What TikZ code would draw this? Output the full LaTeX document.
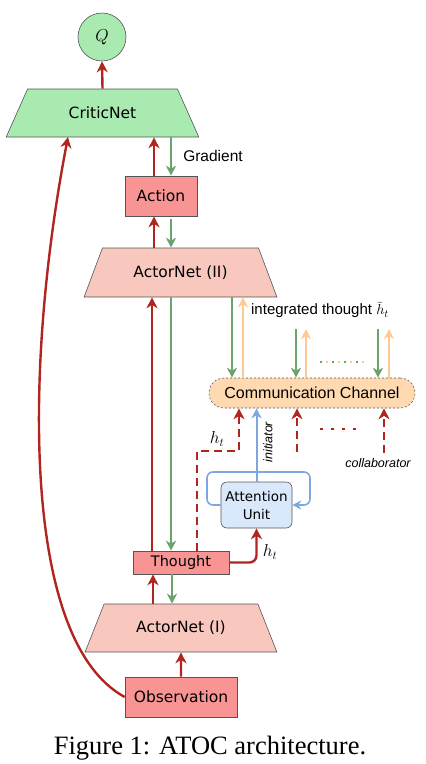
\documentclass[tikz,border=0pt]{standalone}
\usepackage{fontspec}
\setmainfont{Liberation Sans}
\newfontfamily\boxfont{DejaVu Sans}
\newfontfamily\capfont{Liberation Serif}
\usetikzlibrary{shapes.geometric,arrows.meta,calc}
\definecolor{critgreen}{HTML}{A9EAB1}
\definecolor{actpink}{HTML}{F8C8BE}
\definecolor{boxred}{HTML}{F89594}
\definecolor{commfill}{HTML}{FFDAB0}
\definecolor{attfill}{HTML}{DAE8FC}
\definecolor{bordgray}{HTML}{555555}
\definecolor{arrred}{HTML}{B0261E}
\definecolor{arrgreen}{HTML}{6BA46B}
\definecolor{arrorange}{HTML}{FFC994}
\definecolor{arrblue}{HTML}{7EA6E0}
\begin{document}
\begin{tikzpicture}[x=1pt,y=-1pt,
  trap/.style={trapezium, trapezium stretches=true, trapezium left angle=51.3, trapezium right angle=51.3,
    minimum width=193pt, minimum height=48pt, inner sep=0pt, draw=bordgray, line width=0.6pt,
    font=\boxfont\fontsize{15.5}{18}\selectfont},
  redbox/.style={rectangle, draw=bordgray, line width=0.6pt, fill=boxred, inner sep=0pt,
    font=\boxfont\fontsize{15.5}{18}\selectfont},
  redarr/.style={draw=arrred, line width=2.4pt, -{Stealth[length=11pt,width=11pt,inset=3.5pt]}},
  grnarr/.style={draw=arrgreen, line width=2pt, -{Stealth[length=10pt,width=10pt,inset=3pt]}},
  orgarr/.style={draw=arrorange, line width=2pt, -{Stealth[length=10pt,width=10pt,inset=3pt]}},
  bluarr/.style={draw=arrblue, line width=2pt, -{Stealth[length=10pt,width=10pt,inset=3pt]}},
  reddash/.style={draw=arrred, line width=2.4pt, dash pattern=on 8pt off 5pt, -{Stealth[length=11pt,width=11pt,inset=3.5pt]}},
  lbl/.style={font=\fontsize{15.5}{18}\selectfont, inner sep=0pt},
  ilbl/.style={font=\itshape\fontsize{12.5}{15}\selectfont, inner sep=0pt},
  mlbl/.style={font=\fontsize{17}{20}\selectfont, inner sep=0pt}
]
\useasboundingbox (0,0) rectangle (426,764);

% nodes
\node[circle, draw=bordgray, line width=0.6pt, fill=critgreen, minimum size=48pt, inner sep=0pt,
  font=\fontsize{18}{20}\selectfont] (q) at (102,37) {$Q$};
\node[trap, fill=critgreen] (critic) at (102.5,113) {CriticNet};
\node[redbox, minimum width=72pt, minimum height=40pt] (action) at (161,196) {Action};
\node[trap, fill=actpink, minimum height=49pt] (actor2) at (180.5,272.5) {ActorNet (II)};
\node[rectangle, rounded corners=15pt, draw=bordgray, line width=0.6pt, dash pattern=on 2pt off 2pt,
  fill=commfill, minimum width=206pt, minimum height=30pt, inner sep=0pt,
  font=\fontsize{16}{18}\selectfont] (comm) at (312,393) {Communication Channel};
\node[rectangle, rounded corners=6pt, draw=bordgray, line width=0.6pt, fill=attfill,
  minimum width=71pt, minimum height=46pt, inner sep=0pt, align=center,
  font=\boxfont\fontsize{13.5}{18}\selectfont] (att) at (256.5,505) {Attention\\Unit};
\node[redbox, minimum width=96pt, minimum height=23pt, font=\boxfont\fontsize{14.5}{17}\selectfont] (thought) at (181,562.5) {Thought};
\node[trap, fill=actpink, minimum width=192pt] (actor1) at (181,628) {ActorNet (I)};
\node[redbox, minimum width=112pt, minimum height=40pt] (obs) at (181,697) {Observation};
\node[font=\capfont\fontsize{26.5}{30}\selectfont, inner sep=0pt] (cap) at (210,748) {Figure 1: ATOC architecture.};

% labels
\node[lbl, font=\fontsize{15}{18}\selectfont] (integ) at (320,310) {integrated thought $\widetilde{h}_t$};
\node[lbl] (grad) at (213,156) {Gradient};
\node[ilbl, rotate=90] (init) at (268,442) {initiator};
\node[ilbl] (collab) at (378,463) {collaborator};
\node[mlbl] (ht1) at (217,439) {$h_t$};
\node[mlbl] (ht2) at (270,552) {$h_t$};

% free-end coordinates
\coordinate (g2) at (296,329);
\coordinate (o2) at (306,329);
\coordinate (g3) at (378,329);
\coordinate (o3) at (389,329);
\coordinate (d2) at (297,452);
\coordinate (d3) at (384,453);
\coordinate (hk1) at (197,451);
\coordinate (hk2) at (239,451);
\coordinate (dotA) at (320,362);
\coordinate (dotB) at (364,362);
\coordinate (rdA) at (320,429);
\coordinate (rdB) at (363,429);
\coordinate (crit68) at (68,137);

% top part
\draw[redarr] (critic.north) -- (q.south);
\draw[redarr] ([xshift=-7pt]action.north) -- ([xshift=-7pt]action.north |- critic.south);
\draw[grnarr] ([xshift=10pt]action.north |- critic.south) -- ([xshift=10pt]action.north);
\draw[redarr] ([xshift=-7pt]action.south |- actor2.north) -- ([xshift=-7pt]action.south);
\draw[grnarr] ([xshift=10pt,yshift=-3pt]action.south) -- ([xshift=10pt]action.south |- actor2.north);

% actor2 <-> thought
\draw[redarr] ([xshift=-29pt]thought.north) -- ([xshift=-29pt]thought.north |- actor2.south);
\draw[grnarr] ([xshift=-10pt]thought.north |- actor2.south) -- ([xshift=-10pt]thought.north);

% actor2 <-> comm
\draw[grnarr] (232,0 |- actor2.south) -- (232,0 |- comm.north);
\draw[orgarr] (243,0 |- comm.north) -- (243,0 |- actor2.south);
\draw[grnarr] (g2) -- (g2 |- comm.north);
\draw[orgarr] (o2 |- comm.north) -- (o2);
\draw[grnarr] (g3) -- (g3 |- comm.north);
\draw[orgarr] (o3 |- comm.north) -- (o3);
\draw[draw=arrorange, line width=2pt, dash pattern=on 2pt off 10pt, dash phase=-6pt] (dotA) -- (dotB);
\draw[draw=arrgreen, line width=2pt, dash pattern=on 2pt off 10pt] (dotA) -- (dotB);

% comm bottom
\draw[reddash] (thought.north -| hk1) -- (hk1) -- (hk2) -- (hk2 |- comm.south);
\draw[bluarr] (att.north) -- (att.north |- comm.south);
\draw[reddash] (d2) -- (d2 |- comm.south);
\draw[reddash] (d3) -- (d3 |- comm.south);
\draw[draw=arrred, line width=2.4pt, dash pattern=on 3pt off 8pt] (rdA) -- (rdB);

% attention loop
\draw[draw=arrblue, line width=1.6pt, rounded corners=6pt, -{Stealth[length=9pt,width=9pt,inset=3pt]}]
  (att.west) -| (207,472) -| (310,505) -- (att.east);

% thought -> attention
\draw[redarr, rounded corners=7pt] (thought.east) -| (att.south);

% actor1 <-> thought
\draw[redarr] ([xshift=-28pt]thought.south |- actor1.north) -- ([xshift=-28pt]thought.south);
\draw[grnarr] ([xshift=-9pt]thought.south) -- ([xshift=-9pt]thought.south |- actor1.north);

% observation
\draw[redarr] (obs.north) -- (actor1.south);
\draw[redarr] (obs.west) .. controls (20,640) and (25,360) .. (crit68);
\end{tikzpicture}
\end{document}
